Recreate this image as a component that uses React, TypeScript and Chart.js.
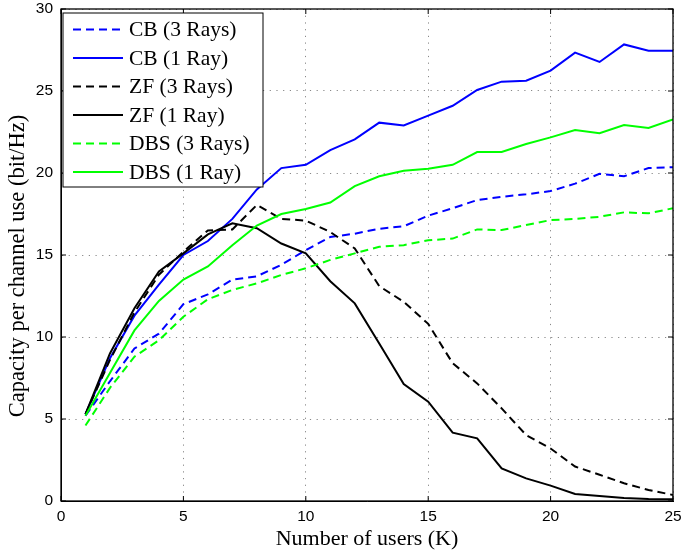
import React, { useEffect, useRef } from "react";
import { Chart, registerables } from "chart.js";
Chart.register(...registerables);

const users = [1, 2, 3, 4, 5, 6, 7, 8, 9, 10, 11, 12, 13, 14, 15, 16, 17, 18, 19, 20, 21, 22, 23, 24, 25];
const cb3 = [5.2, 7.3, 9.3, 10.2, 12.0, 12.6, 13.5, 13.7, 14.4, 15.3, 16.1, 16.3, 16.6, 16.75, 17.4, 17.85, 18.35, 18.55, 18.7, 18.9, 19.35, 19.95, 19.8, 20.3, 20.35];
const cb1 = [5.3, 8.7, 11.3, 13.2, 15.0, 15.85, 17.2, 19.0, 20.3, 20.5, 21.4, 22.05, 23.07, 22.9, 23.5, 24.1, 25.06, 25.57, 25.63, 26.24, 27.34, 26.77, 27.84, 27.46, 27.46];
const zf3 = [5.3, 8.6, 11.5, 13.8, 15.2, 16.5, 16.56, 18.05, 17.2, 17.1, 16.4, 15.4, 13.1, 12.15, 10.8, 8.4, 7.17, 5.65, 4.02, 3.2, 2.1, 1.6, 1.08, 0.67, 0.37];
const zf1 = [5.3, 9.0, 11.75, 14.0, 15.1, 16.26, 16.93, 16.63, 15.7, 15.1, 13.4, 12.05, 9.6, 7.13, 6.06, 4.17, 3.82, 1.99, 1.38, 0.94, 0.43, 0.3, 0.18, 0.12, 0.1];
const dbs3 = [4.6, 6.9, 8.8, 9.8, 11.24, 12.3, 12.87, 13.27, 13.78, 14.19, 14.7, 15.1, 15.5, 15.6, 15.9, 16.0, 16.56, 16.52, 16.83, 17.13, 17.2, 17.33, 17.6, 17.54, 17.85];
const dbs1 = [5.2, 7.8, 10.4, 12.2, 13.5, 14.3, 15.6, 16.8, 17.5, 17.8, 18.2, 19.2, 19.8, 20.14, 20.26, 20.5, 21.28, 21.28, 21.77, 22.17, 22.62, 22.42, 22.93, 22.74, 23.27];

const seriesNames = ["CB (3 Rays)", "CB (1 Ray)", "ZF (3 Rays)", "ZF (1 Ray)", "DBS (3 Rays)", "DBS (1 Ray)"];
const seriesValues = [cb3, cb1, zf3, zf1, dbs3, dbs1];
const seriesColors = ["#0000ff", "#0000ff", "#000000", "#000000", "#00ff00", "#00ff00"];
const seriesDashed = [true, false, true, false, true, false];

const xTitle = "Number of users (K)";
const yTitle = "Capacity per channel use (bit/Hz)";

const SERIF = "'Liberation Serif', 'DejaVu Serif', serif";
const SANS = "'Liberation Sans', Arial, sans-serif";
const DASH = [8, 5];

const framePlugin = {
  id: "framePlugin",
  afterDraw(chart: any) {
    const { ctx, chartArea: a, scales } = chart;
    ctx.save();
    ctx.strokeStyle = "#000";
    ctx.lineWidth = 1.3;
    ctx.setLineDash([]);
    ctx.strokeRect(a.left, a.top, a.right - a.left, a.bottom - a.top);
    // inward ticks
    ctx.lineWidth = 1;
    const tl = 5;
    scales.x.ticks.forEach((t: any) => {
      const px = scales.x.getPixelForValue(t.value);
      ctx.beginPath();
      ctx.moveTo(px, a.bottom);
      ctx.lineTo(px, a.bottom - tl);
      ctx.moveTo(px, a.top);
      ctx.lineTo(px, a.top + tl);
      ctx.stroke();
    });
    scales.y.ticks.forEach((t: any) => {
      const py = scales.y.getPixelForValue(t.value);
      ctx.beginPath();
      ctx.moveTo(a.left, py);
      ctx.lineTo(a.left + tl, py);
      ctx.moveTo(a.right, py);
      ctx.lineTo(a.right - tl, py);
      ctx.stroke();
    });
    // y title
    ctx.save();
    ctx.translate(18, (a.top + a.bottom) / 2 + 11);
    ctx.rotate(-Math.PI / 2);
    ctx.font = `22.5px ${SERIF}`;
    ctx.fillStyle = "#000";
    ctx.textAlign = "center";
    ctx.textBaseline = "middle";
    ctx.fillText(yTitle, 0, 0);
    ctx.restore();
    // legend
    const lx = a.left + 2;
    const ly = a.top + 4;
    const lw = 200;
    const lh = 174;
    ctx.fillStyle = "#fff";
    ctx.fillRect(lx, ly, lw, lh);
    ctx.strokeStyle = "#000";
    ctx.lineWidth = 1;
    ctx.strokeRect(lx, ly, lw, lh);
    ctx.font = `21.5px ${SERIF}`;
    ctx.textBaseline = "middle";
    ctx.textAlign = "left";
    chart.data.datasets.forEach((ds: any, i: number) => {
      const cy = ly + 16.5 + i * 28.5;
      ctx.strokeStyle = ds.borderColor;
      ctx.lineWidth = 2;
      ctx.setLineDash(ds.borderDash || []);
      ctx.beginPath();
      ctx.moveTo(lx + 10, cy);
      ctx.lineTo(lx + 60, cy);
      ctx.stroke();
      ctx.setLineDash([]);
      ctx.fillStyle = "#000";
      ctx.fillText(ds.label, lx + 66, cy + 1);
    });
    ctx.restore();
  },
};

export default function App() {
  const ref = useRef<HTMLCanvasElement>(null);
  useEffect(() => {
    if (!ref.current) return;
    const chart = new Chart(ref.current, {
      type: "line",
      data: {
        datasets: seriesNames.map((name, i) => ({
          label: name,
          data: users.map((u, j) => ({ x: u, y: seriesValues[i][j] })),
          borderColor: seriesColors[i],
          backgroundColor: seriesColors[i],
          borderWidth: 2,
          borderDash: seriesDashed[i] ? DASH : [],
          pointRadius: 0,
          tension: 0,
          fill: false,
          order: -i,
        })),
      },
      options: {
        animation: false,
        responsive: true,
        maintainAspectRatio: false,
        layout: { padding: { left: 0, right: 9, top: 9, bottom: 0 } },
        plugins: { legend: { display: false }, tooltip: { enabled: false } },
        scales: {
          x: {
            type: "linear",
            min: 0,
            max: 25,
            ticks: { stepSize: 5, color: "#000", font: { family: SANS, size: 15.5 }, padding: 6, maxRotation: 0 },
            grid: { color: "#888", lineWidth: 1, drawTicks: false },
            border: { display: true, color: "#000", width: 1, dash: [1.2, 5.5] },
            title: { display: true, text: xTitle, color: "#000", font: { family: SERIF, size: 22 }, padding: { top: 0, bottom: 1 } },
            afterFit: (s: any) => { s.height = 52; s.paddingLeft = 0; s.paddingRight = 0; },
          },
          y: {
            type: "linear",
            min: 0,
            max: 30,
            ticks: { stepSize: 5, color: "#000", font: { family: SANS, size: 15.5 }, padding: 8 },
            grid: { color: "#888", lineWidth: 1, drawTicks: false },
            border: { display: true, color: "#000", width: 1, dash: [1.2, 5.5] },
            title: { display: false, text: yTitle },
            afterFit: (s: any) => { s.width = 61; s.paddingTop = 0; s.paddingBottom = 0; },
          },
        },
      },
      plugins: [framePlugin],
    });
    return () => chart.destroy();
  }, []);
  return (
    <div style={{ position: "fixed", left: 0, top: 0, width: 682, height: 553, background: "#fff" }}>
      <canvas ref={ref} />
    </div>
  );
}
